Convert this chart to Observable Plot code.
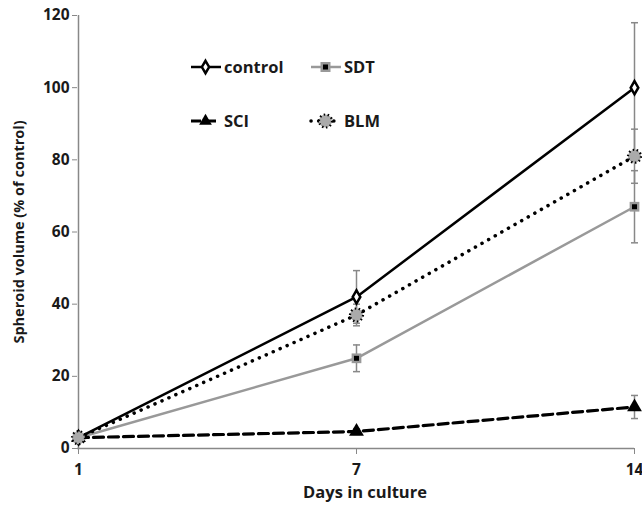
<!DOCTYPE html>
<html><head><meta charset="utf-8">
<script src="https://cdn.jsdelivr.net/npm/d3@7"></script>
<script src="https://cdn.jsdelivr.net/npm/@observablehq/plot@0.6"></script>
<style>
body{margin:0;background:#fff}
#wrap{position:relative;width:642px;height:506px}
#legend{position:absolute;left:0;top:0}
</style>
</head><body><div id="wrap"></div>
<script>
// ---- data ----
const days = ["1", "7", "14"];
const yTicks = [0, 20, 40, 60, 80, 100, 120];
const seriesNames = ["control", "SDT", "SCI", "BLM"];
const control = [3, 42, 100];
const controlErr = [0.5, 7.3, 18];
const sdt = [3, 25, 67];
const sdtErr = [0.5, 3.7, 10];
const sci = [3, 4.7, 11.5];
const sciErr = [0.3, 0.8, 3.2];
const blm = [3, 37, 81];
const blmErr = [0.5, 3, 7.5];

const font = "'Open Sans', Lato, sans-serif";
const rows = (vals, errs, name) => days.map((d, i) => ({day: d, v: vals[i], e: errs[i], name}));
const C = rows(control, controlErr, seriesNames[0]);
const S = rows(sdt, sdtErr, seriesNames[1]);
const K = rows(sci, sciErr, seriesNames[2]);
const B = rows(blm, blmErr, seriesNames[3]);
const all = [...C, ...S, ...K, ...B];

const errColor = "#888";
const capSymbol = {draw(ctx) { ctx.moveTo(-3.5, 0); ctx.lineTo(3.5, 0); }};
const errMarks = [
  Plot.ruleX(all, {x: "day", y1: d => d.v - d.e, y2: d => d.v + d.e, stroke: errColor, strokeWidth: 1.5}),
  Plot.dot(all, {x: "day", y: d => d.v + d.e, symbol: capSymbol, stroke: errColor, strokeWidth: 1.5, fill: "none"}),
  Plot.dot(all, {x: "day", y: d => d.v - d.e, symbol: capSymbol, stroke: errColor, strokeWidth: 1.5, fill: "none"})
];

const plot = Plot.plot({
  width: 642, height: 506,
  marginLeft: 77, marginRight: 8, marginTop: 15, marginBottom: 58,
  style: {fontFamily: font, fontWeight: "bold", fontSize: "15.5px", color: "#1a1a1a", background: "#fff"},
  x: {type: "point", domain: days, padding: 0},
  y: {domain: [0, 120]},
  marks: [
    Plot.ruleY([0], {stroke: "#888", strokeWidth: 1.5}),
    Plot.ruleX([days[0]], {stroke: "#888", strokeWidth: 1.5}),
    Plot.axisY({ticks: yTicks, tickSize: 5, tickPadding: 3, stroke: "#888", fontSize: 15.5, label: null}),
    Plot.axisY({ticks: [], tickSize: 0, fontSize: 14.5,
      label: "Spheroid volume (% of control)", labelAnchor: "center", labelArrow: "none", labelOffset: 64}),
    Plot.axisX({tickSize: 6, tickPadding: 9, stroke: "#888", fontSize: 15.5, label: null}),
    Plot.text(["Days in culture"], {frameAnchor: "bottom", dx: 9, dy: 49, fontSize: 16.5, fontWeight: "bold", fill: "#1a1a1a"}),
    ...errMarks,
    Plot.line(S, {x: "day", y: "v", stroke: "#999", strokeWidth: 2.5}),
    Plot.line(C, {x: "day", y: "v", stroke: "#000", strokeWidth: 2.5}),
    Plot.line(K, {x: "day", y: "v", stroke: "#000", strokeWidth: 3.2, strokeDasharray: "10,5"}),
    Plot.line(B, {x: "day", y: "v", stroke: "#000", strokeWidth: 3.5, strokeDasharray: "0.1,7.5", strokeLinecap: "round"}),
    Plot.dot(S, {x: "day", y: "v", symbol: "square", r: 5.5, fill: "#999"}),
    Plot.dot(S, {x: "day", y: "v", symbol: "square", r: 2.8, fill: "#000"}),
    Plot.dot(C, {x: "day", y: "v", symbol: "diamond", r: 4, fill: "#fff", stroke: "#000", strokeWidth: 2.5}),
    Plot.dot(K, {x: "day", y: "v", symbol: "triangle", r: 5.5, fill: "#000"}),
    Plot.dot(B, {x: "day", y: "v", symbol: "circle", r: 6.5, fill: "#aaa", stroke: "#000", strokeWidth: 2.2, strokeDasharray: "1.5,2.5"})
  ]
});
const wrap = document.getElementById("wrap");
wrap.appendChild(plot);

// ---- legend (overlay) ----
const leg = d3.select(wrap).append("svg").attr("id", "legend").attr("width", 642).attr("height", 506)
  .style("font-family", font).style("font-weight", "bold").style("font-size", "16.5px");
const items = [
  {name: seriesNames[0], x: 191, y: 67, stroke: "#000", w: 2.5, dash: null, cap: "butt"},
  {name: seriesNames[1], x: 311, y: 67, stroke: "#999", w: 2.5, dash: null, cap: "butt"},
  {name: seriesNames[2], x: 191, y: 121, stroke: "#000", w: 3.2, dash: "10,5", cap: "butt"},
  {name: seriesNames[3], x: 311, y: 121, stroke: "#000", w: 3.5, dash: "0.1,7.5", cap: "round"}
];
items.forEach((it, i) => {
  const g = leg.append("g").attr("transform", `translate(${it.x},${it.y})`);
  g.append("line").attr("x1", 0).attr("x2", 30).attr("stroke", it.stroke).attr("stroke-width", it.w)
    .attr("stroke-dasharray", it.dash).attr("stroke-linecap", it.cap);
  const cx = 14.5;
  if (i === 0) g.append("path").attr("d", d3.symbol(d3.symbolDiamond, 45)()).attr("transform", `translate(${cx},0)`).attr("fill", "#fff").attr("stroke", "#000").attr("stroke-width", 2.5);
  if (i === 1) { g.append("rect").attr("x", cx - 5).attr("y", -5).attr("width", 10).attr("height", 10).attr("fill", "#999");
                 g.append("rect").attr("x", cx - 2.5).attr("y", -2.5).attr("width", 5).attr("height", 5).attr("fill", "#000"); }
  if (i === 2) g.append("path").attr("d", d3.symbol(d3.symbolTriangle, 70)()).attr("transform", `translate(${cx},0)`).attr("fill", "#000");
  if (i === 3) g.append("circle").attr("cx", cx).attr("r", 6.5).attr("fill", "#aaa").attr("stroke", "#000").attr("stroke-width", 2.2).attr("stroke-dasharray", "1.5,2.5");
  g.append("text").attr("x", 33).attr("dy", "0.35em").attr("fill", "#1a1a1a").text(it.name);
});
</script>
</body></html>
